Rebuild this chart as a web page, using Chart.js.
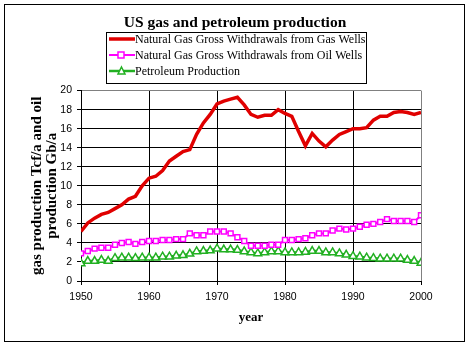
<!DOCTYPE html>
<html>
<head>
<meta charset="utf-8">
<script src="https://cdn.jsdelivr.net/npm/chart.js@4.4.0/dist/chart.umd.min.js"></script>
<style>
  html, body { margin: 0; padding: 0; background: #fff; }
  #wrap { width: 470px; height: 347px; }
</style>
</head>
<body>
<div id="wrap"><canvas id="gas-chart" width="470" height="347"></canvas></div>
<script>
// Data (1950..2000)
var years = [];
for (var yr = 1950; yr <= 2000; yr++) years.push(yr);

var gasWells = [5.2, 6.1, 6.6, 7.0, 7.2, 7.6, 8.0, 8.6, 8.9, 10.0,
                10.8, 11.0, 11.6, 12.6, 13.1, 13.6, 13.8, 15.4, 16.6, 17.5,
                18.6, 18.9, 19.1, 19.3, 18.5, 17.5, 17.2, 17.4, 17.4, 18.0,
                17.6, 17.3, 15.7, 14.2, 15.5, 14.7, 14.1, 14.8, 15.4, 15.7,
                16.0, 16.0, 16.1, 16.9, 17.3, 17.3, 17.7, 17.8, 17.7, 17.5,
                17.7];
var oilWells = [2.9, 3.15, 3.4, 3.5, 3.5, 3.8, 4.0, 4.1, 3.9, 4.1,
                4.2, 4.2, 4.3, 4.3, 4.4, 4.4, 5.0, 4.8, 4.8, 5.2,
                5.2, 5.2, 5.0, 4.6, 4.2, 3.7, 3.7, 3.7, 3.8, 3.8,
                4.3, 4.3, 4.4, 4.5, 4.8, 5.0, 5.0, 5.3, 5.5, 5.4,
                5.5, 5.7, 5.9, 6.0, 6.2, 6.5, 6.3, 6.3, 6.3, 6.2,
                6.9];
var petroleum = [1.85, 2.1, 2.1, 2.2, 2.1, 2.4, 2.45, 2.45, 2.4, 2.45,
                 2.45, 2.45, 2.55, 2.55, 2.65, 2.7, 2.85, 3.1, 3.15, 3.2,
                 3.4, 3.3, 3.3, 3.25, 3.1, 3.0, 2.9, 3.0, 3.1, 3.1,
                 3.0, 3.0, 3.0, 3.05, 3.15, 3.15, 3.0, 3.0, 2.9, 2.75,
                 2.6, 2.55, 2.45, 2.4, 2.35, 2.35, 2.35, 2.35, 2.2, 2.1,
                 1.9];
var seriesNames = ["Natural Gas Gross Withdrawals from Gas Wells",
                   "Natural Gas Gross Withdrawals from Oil Wells",
                   "Petroleum Production"];

function toPoints(vals) {
    return vals.map(function (v, i) { return { x: years[i], y: v }; });
}

var serif = "'Liberation Serif', 'Times New Roman', serif";
var sans = "'Liberation Sans', Arial, sans-serif";

// Frame round the whole chart + legend box drawn by hand (Excel style)
var framePlugin = {
    id: 'frame',
    beforeDraw: function (chart) {
        var c = chart.ctx;
        c.save();
        c.fillStyle = '#fff';
        c.fillRect(0, 0, chart.width, chart.height);
        c.restore();
    },
    afterDraw: function (chart) {
        var c = chart.ctx;
        c.save();
        c.strokeStyle = '#000';
        c.lineWidth = 1;
        c.strokeRect(4.5, 4.5, 460, 337);

        // legend
        var bx = 106.5, by = 32.5, bw = 260, bh = 51;
        c.fillStyle = '#fff';
        c.fillRect(bx, by, bw, bh);
        c.strokeRect(bx, by, bw, bh);
        var rows = [39, 55, 71];
        chart.data.datasets.forEach(function (ds, i) {
            var y = rows[i];
            c.strokeStyle = ds.borderColor;
            c.lineWidth = ds.borderWidth;
            c.beginPath();
            c.moveTo(109, y);
            c.lineTo(135, y);
            c.stroke();
            if (ds.pointStyle === 'rect') {
                c.fillStyle = '#fff';
                c.lineWidth = 1.5;
                c.fillRect(118, y - 3, 6, 6);
                c.strokeRect(118, y - 3, 6, 6);
            } else if (ds.pointStyle === 'triangle') {
                c.fillStyle = '#fff';
                c.lineWidth = 1.5;
                c.beginPath();
                c.moveTo(121.5, y - 4);
                c.lineTo(125, y + 3);
                c.lineTo(118, y + 3);
                c.closePath();
                c.fill();
                c.stroke();
            }
            c.fillStyle = '#000';
            c.font = '12px ' + serif;
            c.textBaseline = 'middle';
            c.fillText(ds.label, 135, y + 1);
        });
        c.restore();
    }
};

var ctx = document.getElementById('gas-chart');

var config = {
    type: 'line',
    data: {
        datasets: [{
            label: seriesNames[0],
            data: toPoints(gasWells),
            borderColor: '#e00000',
            borderWidth: 3.5,
            pointRadius: 0,
            pointStyle: false
        }, {
            label: seriesNames[1],
            data: toPoints(oilWells),
            borderColor: '#ff00ff',
            borderWidth: 2,
            pointStyle: 'rect',
            pointRadius: 3.5,
            pointBorderWidth: 1.5,
            pointBackgroundColor: '#fff'
        }, {
            label: seriesNames[2],
            data: toPoints(petroleum),
            borderColor: '#22b022',
            borderWidth: 2.5,
            pointStyle: 'triangle',
            pointRadius: 4.5,
            pointBorderWidth: 1.5,
            pointBackgroundColor: '#fff'
        }]
    },
    options: {
        responsive: false,
        animation: false,
        layout: { padding: { left: 49, right: 49, top: 4, bottom: 14 } },
        plugins: {
            legend: { display: false },
            tooltip: { enabled: false },
            title: {
                display: true,
                text: 'US gas and petroleum production',
                color: '#000',
                font: { family: serif, size: 15.5, weight: 'bold' },
                padding: { top: 10, bottom: 58 }
            }
        },
        scales: {
            x: {
                type: 'linear',
                min: 1950,
                max: 2000,
                afterFit: function (scale) { scale.height = 52; },
                border: { color: '#000', width: 1 },
                grid: {
                    color: function (c) { return c.tick && c.tick.value === 2000 ? '#808080' : '#000'; },
                    tickLength: 4,
                    tickColor: '#000'
                },
                ticks: {
                    stepSize: 10,
                    color: '#000',
                    padding: 6,
                    maxRotation: 0,
                    font: { family: sans, size: 10.5 },
                    callback: function (v) { return String(v); }
                },
                title: {
                    display: true,
                    text: 'year',
                    color: '#000',
                    font: { family: serif, size: 13, weight: 'bold' },
                    padding: { top: 0, bottom: 8 }
                }
            },
            y: {
                min: 0,
                max: 20,
                afterFit: function (scale) { scale.width = 32; },
                border: { color: '#000', width: 1 },
                grid: {
                    color: function (c) { return c.tick && c.tick.value === 20 ? '#808080' : '#000'; },
                    tickLength: 4,
                    tickColor: '#000'
                },
                ticks: {
                    stepSize: 2,
                    color: '#000',
                    padding: 5,
                    font: { family: sans, size: 10.5 }
                },
                title: {
                    display: true,
                    text: ['gas production Tcf/a and oil', 'production Gb/a'],
                    color: '#000',
                    font: { family: serif, size: 15, weight: 'bold', lineHeight: 1 },
                    padding: { top: -19, bottom: 0 }
                }
            }
        }
    },
    plugins: [framePlugin]
};

var gasChart = new Chart(ctx, config);
</script>
</body>
</html>
